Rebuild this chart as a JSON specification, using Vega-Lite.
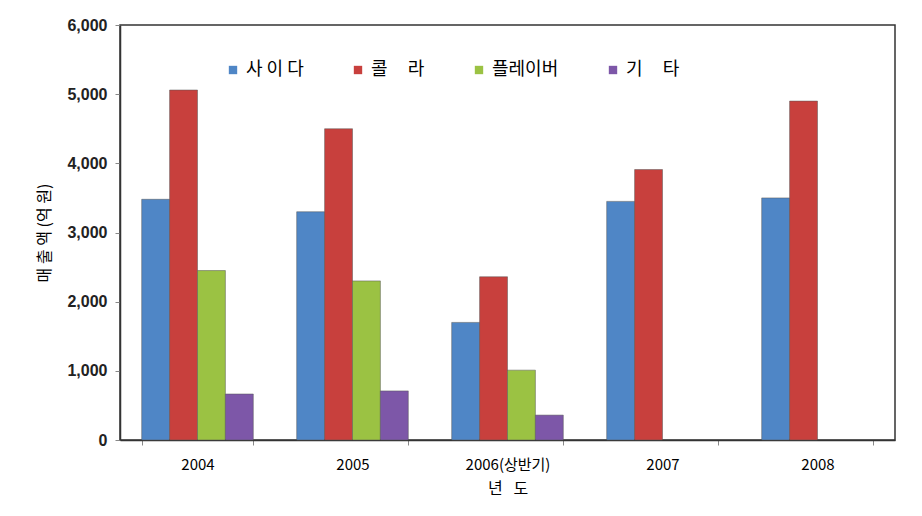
{
  "$schema": "https://vega.github.io/schema/vega-lite/v6.json",
  "width": 775,
  "height": 415,
  "autosize": "none",
  "padding": {"left": 120, "top": 25, "right": 27, "bottom": 76},
  "background": "white",
  "data": {"values": [
    {"year": "2004", "type": "사 이 다", "value": 3480},
    {"year": "2004", "type": "콜\u00a0\u00a0\u00a0\u00a0\u00a0라", "value": 5060},
    {"year": "2004", "type": "플레이버", "value": 2450},
    {"year": "2004", "type": "기\u00a0\u00a0\u00a0\u00a0\u00a0타", "value": 665},
    {"year": "2005", "type": "사 이 다", "value": 3300},
    {"year": "2005", "type": "콜\u00a0\u00a0\u00a0\u00a0\u00a0라", "value": 4500},
    {"year": "2005", "type": "플레이버", "value": 2300},
    {"year": "2005", "type": "기\u00a0\u00a0\u00a0\u00a0\u00a0타", "value": 710},
    {"year": "2006(상반기)", "type": "사 이 다", "value": 1700},
    {"year": "2006(상반기)", "type": "콜\u00a0\u00a0\u00a0\u00a0\u00a0라", "value": 2360},
    {"year": "2006(상반기)", "type": "플레이버", "value": 1010},
    {"year": "2006(상반기)", "type": "기\u00a0\u00a0\u00a0\u00a0\u00a0타", "value": 360},
    {"year": "2007", "type": "사 이 다", "value": 3450},
    {"year": "2007", "type": "콜\u00a0\u00a0\u00a0\u00a0\u00a0라", "value": 3910},
    {"year": "2008", "type": "사 이 다", "value": 3500},
    {"year": "2008", "type": "콜\u00a0\u00a0\u00a0\u00a0\u00a0라", "value": 4900}
  ]},
  "mark": {"type": "bar", "strokeWidth": 1, "stroke": "#555555", "strokeOpacity": 0.5},
  "encoding": {
    "x": {
      "field": "year", "type": "nominal", "sort": null,
      "scale": {"paddingInner": 0.28, "paddingOuter": 0.14},
      "axis": {
        "title": "년\u00a0\u00a0\u00a0도", "labelAngle": 0, "tickBand": "extent",
        "labelFont": "Noto Sans CJK KR", "labelFontSize": 15, "labelColor": "#000",
        "labelPadding": 12, "tickSize": 5, "tickColor": "#888",
        "domainColor": "#333", "domainWidth": 1.5,
        "titleFont": "Noto Sans CJK KR", "titleFontSize": 16, "titleFontWeight": "normal",
        "titleColor": "#000", "titlePadding": 8
      }
    },
    "xOffset": {
      "field": "type", "type": "nominal",
      "scale": {"domain": ["사 이 다", "콜\u00a0\u00a0\u00a0\u00a0\u00a0라", "플레이버", "기\u00a0\u00a0\u00a0\u00a0\u00a0타"], "paddingInner": 0, "paddingOuter": 0}
    },
    "y": {
      "field": "value", "type": "quantitative",
      "scale": {"domain": [0, 6000]},
      "axis": {
        "title": "매 출 액 (억 원)", "values": [0, 1000, 2000, 3000, 4000, 5000, 6000],
        "format": ",.0f", "grid": false,
        "labelFont": "Liberation Sans", "labelFontSize": 16, "labelFontWeight": "bold",
        "labelColor": "#222", "labelPadding": 8, "tickSize": 5, "tickColor": "#888",
        "domainColor": "#333", "domainWidth": 1.5,
        "titleFont": "Noto Sans CJK KR", "titleFontSize": 16, "titleFontWeight": "normal",
        "titleColor": "#000", "titlePadding": 14
      }
    },
    "color": {
      "field": "type", "type": "nominal",
      "scale": {"domain": ["사 이 다", "콜\u00a0\u00a0\u00a0\u00a0\u00a0라", "플레이버", "기\u00a0\u00a0\u00a0\u00a0\u00a0타"],
                "range": ["#4F86C6", "#C8403D", "#9BC243", "#7D57A8"]},
      "legend": {
        "title": null, "orient": "none", "direction": "horizontal", "columns": 4,
        "legendX": 104, "legendY": 36, "gridAlign": "none", "columnPadding": 45,
        "symbolType": "square", "symbolSize": 70, "symbolStrokeWidth": 0,
        "labelFont": "Noto Sans CJK KR", "labelFontSize": 18, "labelColor": "#000",
        "labelOffset": 4, "labelLimit": 200
      }
    }
  },
  "config": {
    "view": {"stroke": "#333", "strokeWidth": 1.5}
  }
}
